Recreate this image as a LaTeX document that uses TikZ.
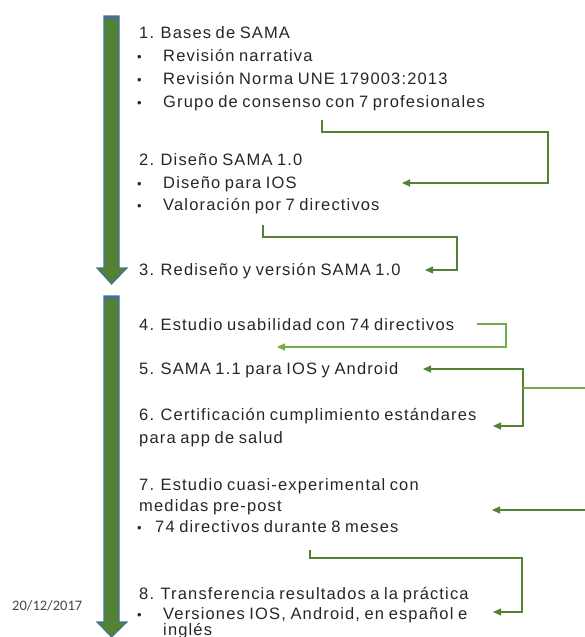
\documentclass[tikz,border=0pt]{standalone}
\usepackage{fontspec}
\setmainfont{Liberation Sans}[LetterSpace=7.0,WordSpace=0.8]
\newfontfamily\datefont{Carlito}
\usetikzlibrary{arrows.meta}
\definecolor{dgreen}{HTML}{548235}
\definecolor{lgreen}{HTML}{70AD47}
\definecolor{oblue}{HTML}{41719C}
\definecolor{txt}{HTML}{262626}
\tikzset{
  lbl/.style={anchor=base west, inner sep=0pt, text=txt, font=\fontsize{16.5}{19}\selectfont},
  bul/.style={anchor=base west, inner sep=0pt, text=txt, font=\fontsize{13}{19}\selectfont},
  conn/.style={draw=dgreen, line width=1.1pt, -{Triangle[length=8pt,width=7pt]}},
  connl/.style={draw=lgreen, line width=1.1pt, -{Triangle[length=8pt,width=7pt]}},
  bigarrow/.style={fill=dgreen, draw=oblue, line width=1.1pt, line join=miter},
}
\begin{document}
\begin{tikzpicture}[x=1pt,y=-1pt]
\useasboundingbox (0,0) rectangle (585,637);
% big arrows
\path[bigarrow] (104,16) -- (119,16) -- (119,268) -- (127,268) -- (111.5,284) -- (97,268) -- (104,268) -- cycle;
\fill[oblue] (104,16) rectangle (119,19);
\path[bigarrow] (104,296) -- (119,296) -- (119,622) -- (127,622) -- (111.5,637) -- (97,622) -- (104,622) -- cycle;
\fill[oblue] (104,296) rectangle (119,299);
% section 1
\node[lbl] (t1) at (139,38.5) {1. Bases de SAMA};
\node[bul] (u1a) at (137,61.5) {•};
\node[lbl] (b1a) at (163,61.5) {Revisión narrativa};
\node[bul] (u1b) at (137,84.5) {•};
\node[lbl] (b1b) at (163,84.5) {Revisión Norma UNE 179003:2013};
\node[bul] (u1c) at (137,107.5) {•};
\node[lbl] (b1c) at (163,107.5) {Grupo de consenso con 7 profesionales};
\node[lbl] (t2) at (139,165.5) {2. Diseño SAMA 1.0};
\node[bul] (u2a) at (137,188.5) {•};
\node[lbl] (b2a) at (163,188.5) {Diseño para IOS};
\node[bul] (u2b) at (137,210.5) {•};
\node[lbl] (b2b) at (163,210.5) {Valoración por 7 directivos};
\node[lbl] (t3) at (139,275.5) {3. Rediseño y versión SAMA 1.0};
% section 2
\node[lbl] (t4) at (139,330.5) {4. Estudio usabilidad con 74 directivos};
\node[lbl] (t5) at (139,374.5) {5. SAMA 1.1 para IOS y Android};
\node[lbl] (t6) at (139,420.5) {6. Certificación cumplimiento estándares};
\node[lbl] (t6b) at (139,443.5) {para app de salud};
\node[lbl] (t7) at (139,490.5) {7. Estudio cuasi-experimental con};
\node[lbl] (t7b) at (139,511.5) {medidas pre-post};
\node[bul] (u7) at (137,532.5) {•};
\node[lbl] (b7) at (155,532.5) {74 directivos durante 8 meses};
\node[lbl] (t8) at (139,599.5) {8. Transferencia resultados a la práctica};
\node[bul] (u8) at (137,619.5) {•};
\node[lbl] (b8) at (163,619.5) {Versiones IOS, Android, en español e};
\node[lbl] (b8b) at (163,635) {inglés};
\node[anchor=base west, inner sep=0pt, text=txt!85, font=\datefont\fontsize{14.5}{17}\selectfont] (date) at (12,610) {20/12/2017};
% connector points
\coordinate (a1) at (322,120); \coordinate (a1e) at (402,183);
\coordinate (a2) at (263,225); \coordinate (a2e) at (425,270);
\coordinate (a3) at (477,324); \coordinate (a3e) at (277,347);
\coordinate (a4s) at (423,369); \coordinate (a4e) at (493,426);
\coordinate (a5) at (585,388); \coordinate (a5e) at (523,388);
\coordinate (a6) at (585,510); \coordinate (a6e) at (492,510);
\coordinate (a7) at (310,550); \coordinate (a7e) at (493,612);
% connectors
\draw[conn] (a1) |- (548,132) |- (a1e);
\draw[conn] (a2) |- (457,237) |- (a2e);
\draw[connl] (a3) -| (506,347) -- (a3e);
\draw[conn, {Triangle[length=8pt,width=7pt]}-{Triangle[length=8pt,width=7pt]}] (a4s) -| (523,426) -- (a4e);
\draw[draw=lgreen, line width=1.1pt] (a5) -- (a5e);
\draw[conn] (a6) -- (a6e);
\draw[conn] (a7) |- (522,558) |- (a7e);
\end{tikzpicture}
\end{document}
